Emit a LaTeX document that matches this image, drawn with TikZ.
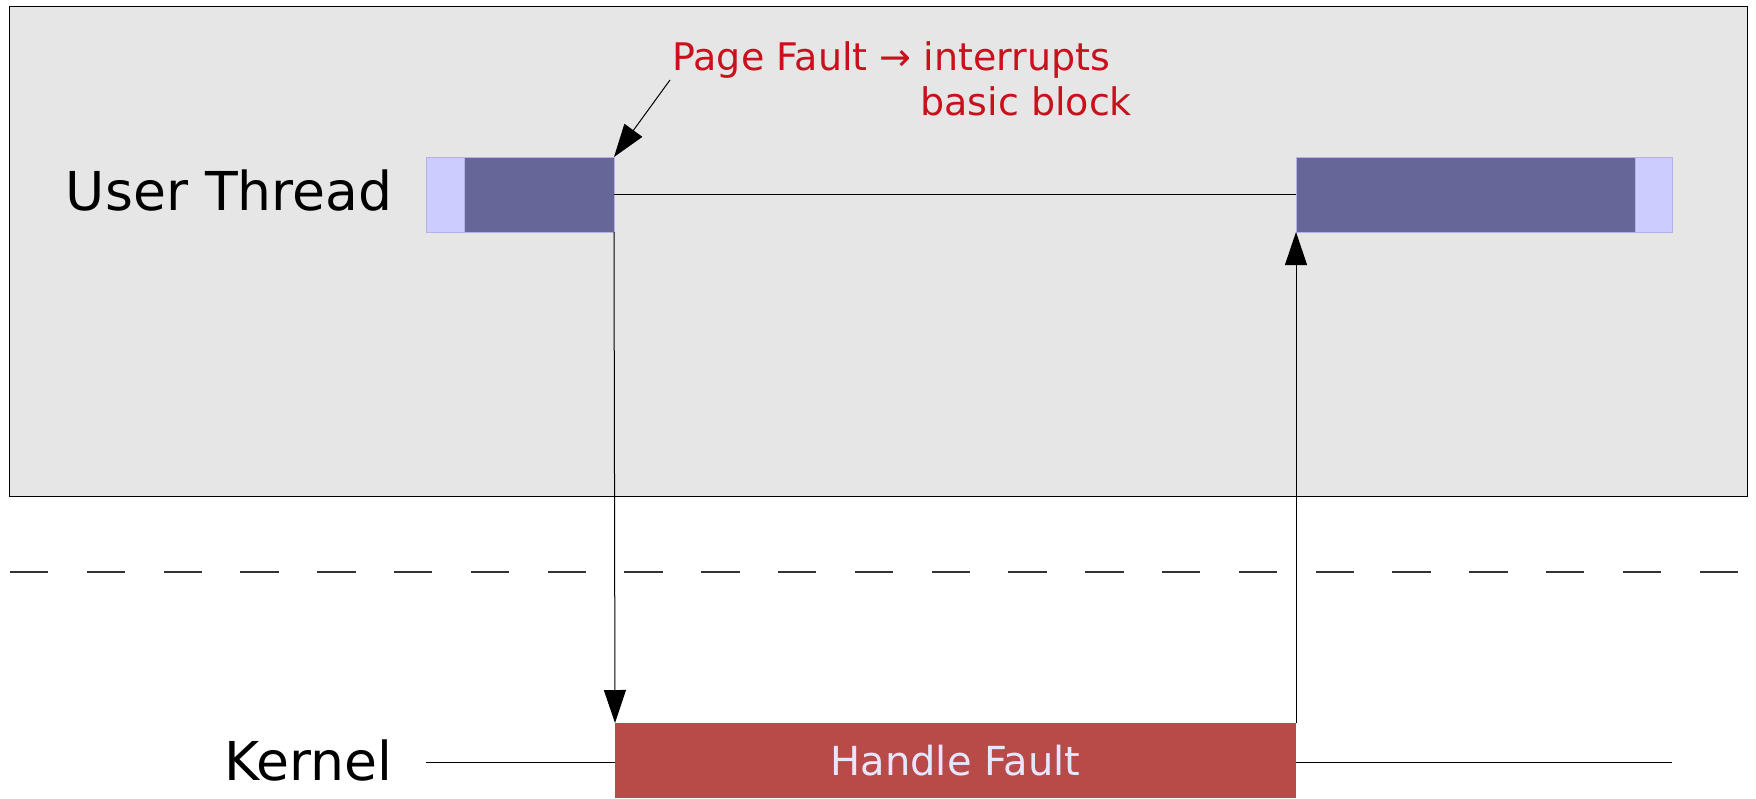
\documentclass[tikz,border=0pt]{standalone}
\usepackage{fontspec}
\setmainfont{DejaVu Sans}
\usepackage{tikz}
\usetikzlibrary{arrows.meta,positioning}
\definecolor{panelgray}{RGB}{230,230,230}
\definecolor{blockdark}{RGB}{102,102,153}
\definecolor{blocklight}{RGB}{204,204,255}
\definecolor{blockedge}{RGB}{178,178,230}
\definecolor{faultred}{RGB}{184,74,72}
\definecolor{notered}{RGB}{201,17,30}
\definecolor{lavender}{RGB}{230,230,255}
\tikzset{
  blk/.style={rectangle,inner sep=0pt,outer sep=0pt,minimum height=37.5pt,draw=blockedge,line width=0.5pt},
  runblk/.style={blk,fill=blockdark},
  idleblk/.style={blk,fill=blocklight},
  lane/.style={font=\fontsize{26.8}{32}\selectfont,anchor=east,inner sep=0pt},
  flow/.style={line width=0.5pt,-{Triangle[length=16.5pt,width=11pt]}}
}

\begin{document}
\begin{tikzpicture}[x=0.5pt,y=-0.5pt]
      \useasboundingbox (0,0) rectangle (1756,798);
      % User space panel
      \draw[fill=panelgray,line width=0.5pt] (9,6) rectangle (1747,496);
      \node[lane] (user) at (393,191) {User Thread};
      \node[lane] (kernel) at (393,760.5) {Kernel};
      % User thread before the fault
      \node[idleblk,minimum width=19pt] (lpre) at (445,194.5) {};
      \node[runblk,minimum width=75pt,right=0pt of lpre] (lrun) {};
      % User thread after the fault
      \node[runblk,minimum width=169.5pt] (rrun) at (1465.5,194.5) {};
      \node[idleblk,minimum width=18.5pt,right=0pt of rrun] (rpost) {};
      \draw[line width=0.5pt] (lrun.east) -- (rrun.west);
      % Boundary
      \coordinate (sepl) at (10,572);
      \coordinate (sepr) at (1740,572);
      \draw[line width=0.7pt,black!80,dash pattern=on 19.2pt off 19.2pt] (sepl) -- (sepr);
      % Kernel
      \coordinate (kl) at (426,762);
      \coordinate (kr) at (1672,762);
      \draw[line width=0.5pt] (kl) -- (kr);
      \node[rectangle,inner sep=0pt,outer sep=0pt,fill=faultred,minimum width=340.5pt,minimum height=37.5pt,
            text=lavender,font=\fontsize{20}{24}\selectfont] (fault) at (955.5,760.5) {Handle Fault};
      \draw[flow] (lrun.south east) -- (fault.north west);
      \draw[flow] (fault.north east) -- (rrun.south west);
      % Note
      \node[anchor=north west,inner sep=0pt,align=left,text=notered,font=\fontsize{19}{22.5}\selectfont]
            (note) at (672,41) {Page Fault → interrupts\\\hspace*{124pt}basic block};
      \coordinate (notetail) at (670,80);
      \draw[flow] (notetail) -- (lrun.north east);
\end{tikzpicture}
\end{document}
